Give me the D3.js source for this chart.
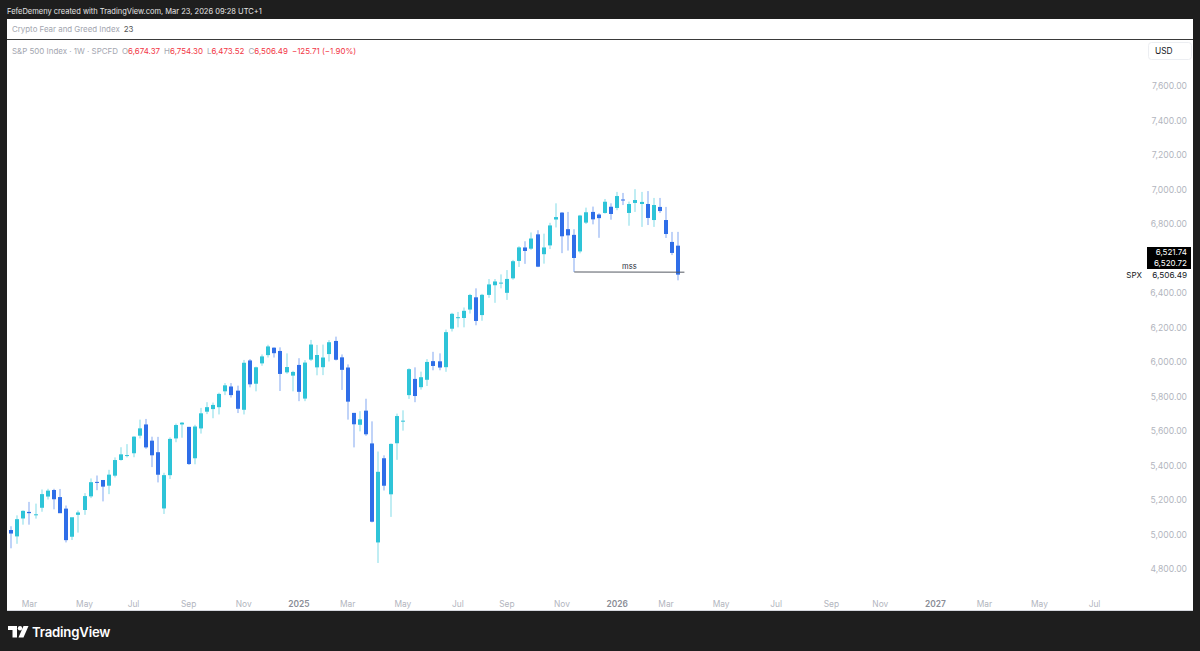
<!DOCTYPE html>
<html><head><meta charset="utf-8">
<script src="https://cdn.jsdelivr.net/npm/d3@7"></script>
<style>
html,body{margin:0;padding:0;background:#1e1e1e;overflow:hidden;}
svg{display:block;font-family:Inter,"Noto Sans",Roboto,sans-serif;}
</style></head><body>
<svg id="c" width="1200" height="651"></svg>
<script>
// ---------- DATA ----------
const barDates = [
"2024-02-12","2024-02-19","2024-02-26","2024-03-04","2024-03-11","2024-03-18","2024-03-25","2024-04-01","2024-04-08","2024-04-15",
"2024-04-22","2024-04-29","2024-05-06","2024-05-13","2024-05-20","2024-05-27","2024-06-03","2024-06-10","2024-06-17","2024-06-24",
"2024-07-01","2024-07-08","2024-07-15","2024-07-22","2024-07-29","2024-08-05","2024-08-12","2024-08-19","2024-08-26","2024-09-02",
"2024-09-09","2024-09-16","2024-09-23","2024-09-30","2024-10-07","2024-10-14","2024-10-21","2024-10-28","2024-11-04","2024-11-11",
"2024-11-18","2024-11-25","2024-12-02","2024-12-09","2024-12-16","2024-12-23","2024-12-30","2025-01-06","2025-01-13","2025-01-20",
"2025-01-27","2025-02-03","2025-02-10","2025-02-17","2025-02-24","2025-03-03","2025-03-10","2025-03-17","2025-03-24","2025-03-31",
"2025-04-07","2025-04-14","2025-04-21","2025-04-28","2025-05-05","2025-05-12","2025-05-19","2025-05-26","2025-06-02","2025-06-09",
"2025-06-16","2025-06-23","2025-06-30","2025-07-07","2025-07-14","2025-07-21","2025-07-28","2025-08-04","2025-08-11","2025-08-18",
"2025-08-25","2025-09-01","2025-09-08","2025-09-15","2025-09-22","2025-09-29","2025-10-06","2025-10-13","2025-10-20","2025-10-27",
"2025-11-03","2025-11-10","2025-11-17","2025-11-24","2025-12-01","2025-12-08","2025-12-15","2025-12-22","2025-12-29","2026-01-05",
"2026-01-12","2026-01-19","2026-01-26","2026-02-02","2026-02-09","2026-02-16","2026-02-23","2026-03-02","2026-03-09","2026-03-16"];

const openVals = [
5026,4989,5093,5131,5112,5155,5220,5258,5217,5150,
4987,5114,5142,5221,5305,5316,5283,5341,5432,5460,
5471,5573,5638,5544,5477,5151,5344,5557,5638,5624,
5442,5615,5712,5727,5738,5830,5858,5834,5723,6009,
5874,5992,6040,6083,6064,5940,5921,5983,5788,6014,
5969,5970,6046,6122,6027,5968,5705,5636,5718,5528,
4954,5442,5233,5529,5655,5808,5902,5854,5897,6005,
6004,5970,6193,6259,6255,6304,6375,6272,6389,6445,
6457,6401,6485,6586,6664,6657,6740,6625,6676,6826,
6866,6770,6737,6641,6808,6870,6855,6864,6900,6893,
6942,6864,6922,6916,6916,6823,6899,6823,6696,6674.37];

const highVals = [
5048,5111,5140,5189,5179,5261,5265,5265,5264,5168,
5089,5139,5240,5325,5342,5316,5375,5447,5506,5524,
5570,5666,5670,5567,5566,5358,5563,5643,5652,5624,
5636,5734,5767,5765,5822,5878,5878,5863,6012,6017,
5973,6044,6100,6085,6085,6050,5949,6022,6011,6128,
6099,6101,6127,6147,6044,5986,5705,5715,5787,5656,
5481,5459,5528,5701,5720,5964,5969,5944,6017,6059,
6050,6188,6285,6290,6316,6395,6427,6395,6481,6481,
6508,6533,6592,6671,6700,6751,6764,6744,6807,6920,
6869,6870,6770,6853,6895,6901,6862,6945,6920,6986,
6980,6930,7002,6986,6991,6951,6951,6899,6754,6754.30];

const lowVals = [
4920,4946,5057,5057,5092,5132,5203,5146,5139,4954,
4968,5011,5114,5211,5257,5192,5234,5331,5428,5447,
5448,5557,5497,5391,5302,5119,5322,5535,5561,5403,
5407,5585,5698,5674,5696,5808,5794,5704,5696,5853,
5830,5978,6026,6026,5832,5932,5830,5773,5773,6006,
5923,5924,6003,6009,5838,5666,5505,5598,5572,5070,
4835,5255,5102,5433,5602,5786,5767,5840,5861,5952,
5952,5943,6177,6201,6201,6281,6213,6239,6372,6343,
6427,6360,6477,6551,6569,6650,6550,6570,6655,6780,
6631,6646,6521.74,6630,6800,6798,6720,6860,6825,6880,
6910,6790,6870,6783,6794,6783,6864,6719,6620,6473.52];

const closeVals = [
5005.57,5088.80,5137.08,5123.69,5117.09,5234.18,5254.35,5204.34,5123.41,4967.23,
5099.96,5127.79,5222.68,5303.27,5304.72,5277.51,5346.99,5431.60,5464.62,5460.48,
5567.19,5615.35,5505.00,5459.10,5346.56,5344.16,5554.25,5634.61,5648.40,5408.42,
5626.02,5702.55,5738.17,5751.07,5815.03,5864.67,5808.12,5728.80,5995.54,5870.62,
5969.34,6032.38,6090.27,6051.09,5930.85,5970.84,5942.47,5827.04,5996.66,6101.24,
6040.53,6025.99,6114.63,6013.13,5954.50,5770.20,5638.94,5667.56,5580.94,5074.08,
5363.36,5282.70,5525.21,5686.67,5659.91,5958.38,5802.82,5911.69,6000.36,5976.97,
5967.84,6173.07,6279.35,6259.75,6296.79,6388.64,6238.01,6389.45,6449.80,6466.91,
6460.26,6481.50,6584.29,6664.36,6643.70,6715.79,6552.51,6664.01,6791.69,6840.20,
6728.80,6734.11,6602.99,6849.09,6868,6827,6834,6929,6858,6962,
6937,6916,6939,6928,6835,6910,6875,6742,6632.20,6506.49];

// 6,600 is hidden behind the price labels in the reference
const priceTicks = [4800,5000,5200,5400,5600,5800,6000,6200,6400,6800,7000,7200,7400,7600];
const timeTickDates = ["2024-03-04","2024-05-06","2024-07-01","2024-09-02","2024-11-04","2025-01-06","2025-03-03","2025-05-05","2025-07-07","2025-09-01","2025-11-03","2026-01-05","2026-03-02","2026-05-04","2026-07-06","2026-09-07","2026-11-02","2027-01-04","2027-03-01","2027-05-03","2027-07-05"];
const timeTickLabels = ["Mar","May","Jul","Sep","Nov","2025","Mar","May","Jul","Sep","Nov","2026","Mar","May","Jul","Sep","Nov","2027","Mar","May","Jul"];
const mssDates = ["2025-11-17","2026-03-23"];
const mssPrices = [6521.74, 6520.72];
const lastClose = 6506.49;

// ---------- SETUP ----------
const parse = d3.utcParse("%Y-%m-%d");
const svg = d3.select("#c");
const W = 1200, H = 651;
const C = {bg:"#1e1e1e", panel:"#ffffff", bull:"#2ec4d8", bear:"#2f6ee8", red:"#f23645", grey:"#a3a6af", axis:"#b2b5be"};

const x = d3.scaleUtc().domain([parse(barDates[0]), parse(barDates[barDates.length-1])]).range([11.1, 678.3]);
const y = d3.scaleLinear().domain([4800, 7600]).range([569, 86]);

svg.append("rect").attr("width",W).attr("height",H).attr("fill",C.bg);
svg.append("rect").attr("x",7).attr("y",19).attr("width",1186).attr("height",592).attr("fill",C.panel);

// header
svg.append("text").attr("x",7).attr("y",13.5).attr("fill","#e6e6e6").attr("font-size",7.5)
  .text("FefeDemeny created with TradingView.com, Mar 23, 2026 09:28 UTC+1");

// pane separator
svg.append("line").attr("x1",7).attr("x2",1193).attr("y1",39.5).attr("y2",39.5).attr("stroke","#3a3a3a").attr("stroke-width",1);

// Fear & Greed legend
const fg = svg.append("text").attr("x",12).attr("y",32).attr("font-size",7.9);
fg.append("tspan").attr("fill",C.grey).text("Crypto Fear and Greed Index");
fg.append("tspan").attr("dx",4).attr("fill","#555").text("23");

// main legend
const lg = svg.append("text").attr("x",12).attr("y",54).attr("font-size",7.95);
lg.append("tspan").attr("fill",C.grey).text("S&P 500 Index · 1W · SPCFD");
const ohlc = [["O",openVals],["H",highVals],["L",lowVals],["C",closeVals]];
const n = closeVals.length;
const fmt = d3.format(",.2f");
ohlc.forEach(([k,arr])=>{
  lg.append("tspan").attr("dx",4).attr("fill",C.grey).text(k);
  lg.append("tspan").attr("fill",C.red).text(fmt(arr[n-1]));
});
const chg = closeVals[n-1]-closeVals[n-2];
lg.append("tspan").attr("dx",4).attr("fill",C.red)
  .text("\u2212" + fmt(Math.abs(chg)) + " (\u2212" + d3.format(".2f")(Math.abs(chg/closeVals[n-2]*100)) + "%)");

// USD box
svg.append("rect").attr("x",1148.5).attr("y",42.5).attr("width",43).attr("height",17).attr("rx",3)
  .attr("fill","#fff").attr("stroke","#eceef2");
svg.append("text").attr("x",1155).attr("y",54).attr("font-size",8.4).attr("fill","#131722").text("USD");

// clip
svg.append("clipPath").attr("id","pane").append("rect").attr("x",7).attr("y",40).attr("width",1133).attr("height",553);
const g = svg.append("g").attr("clip-path","url(#pane)");

const bars = barDates.map((d,i)=>({t:parse(d),o:openVals[i],h:highVals[i],l:lowVals[i],c:closeVals[i]}));
const bw = 4;
g.selectAll(".wick").data(bars).join("rect")
  .attr("x",d=>Math.round(x(d.t))-0.5).attr("width",1)
  .attr("y",d=>y(d.h)).attr("height",d=>Math.max(1,y(d.l)-y(d.h)))
  .attr("fill",d=>d.c>=d.o?C.bull:C.bear).attr("opacity",0.6);
g.selectAll(".body").data(bars).join("rect")
  .attr("x",d=>Math.round(x(d.t))-bw/2).attr("width",bw)
  .attr("y",d=>y(Math.max(d.o,d.c))).attr("height",d=>Math.max(1,Math.abs(y(d.o)-y(d.c))))
  .attr("fill",d=>d.c>=d.o?C.bull:C.bear);

// mss line
const mx1 = x(parse(mssDates[0])), mx2 = x(parse(mssDates[1]));
g.append("line").attr("x1",mx1).attr("x2",mx2).attr("y1",y(mssPrices[0])).attr("y2",y(mssPrices[1]))
  .attr("stroke","#555a63").attr("stroke-width",1);
g.append("text").attr("x",(mx1+mx2)/2).attr("y",y(mssPrices[0])-3).attr("text-anchor","middle")
  .attr("font-size",7.6).attr("fill","#2a2e39").text("mss");

// price axis
svg.append("g").selectAll("text").data(priceTicks).join("text")
  .attr("x",1187).attr("y",d=>y(d)).attr("dy","0.35em").attr("text-anchor","end")
  .attr("font-size",8.6).attr("fill",C.axis).text(d=>fmt(d));

// price label boxes
const boxes = [[mssPrices[0],252.5],[mssPrices[1],263.5]];
svg.append("rect").attr("x",1147).attr("y",247).attr("width",44).attr("height",22).attr("fill","#000");
boxes.forEach(([v,cy])=>{
  svg.append("text").attr("x",1187).attr("y",cy).attr("dy","0.35em").attr("text-anchor","end")
    .attr("font-size",8).attr("fill","#fff").text(fmt(v));
});
svg.append("text").attr("x",1187).attr("y",y(lastClose)+0.8).attr("dy","0.35em").attr("text-anchor","end")
  .attr("font-size",8.2).attr("fill","#131722").text(fmt(lastClose));
svg.append("text").attr("x",1142).attr("y",y(lastClose)+0.8).attr("dy","0.35em").attr("text-anchor","end")
  .attr("font-size",8).attr("fill","#131722").text("SPX");

// time axis
svg.append("g").selectAll("text").data(timeTickDates).join("text")
  .attr("x",d=>x(parse(d))).attr("y",604).attr("dy","0.35em").attr("text-anchor","middle")
  .attr("font-size",8.4)
  .attr("fill",(d,i)=>/^\d{4}$/.test(timeTickLabels[i])?"#8a8d96":C.axis)
  .attr("font-weight",(d,i)=>/^\d{4}$/.test(timeTickLabels[i])?600:400)
  .text((d,i)=>timeTickLabels[i]);

// bottom line of panel
svg.append("line").attr("x1",7).attr("x2",1193).attr("y1",610.5).attr("y2",610.5).attr("stroke","#d6d8de");

// logo
const lg2 = svg.append("g").attr("fill","#fff");
lg2.append("path").attr("d","M8,626 H17 V637.5 H12.5 V630 H8 Z");
lg2.append("circle").attr("cx",20).attr("cy",628.2).attr("r",2.2);
lg2.append("path").attr("d","M23.5,626 H28.5 L23.5,637.5 H18.5 Z");
svg.append("text").attr("x",32).attr("y",636.5).attr("font-size",13.2).attr("font-weight",600)
  .attr("fill","#fff").attr("letter-spacing",-0.2).text("TradingView");
</script>
</body></html>
